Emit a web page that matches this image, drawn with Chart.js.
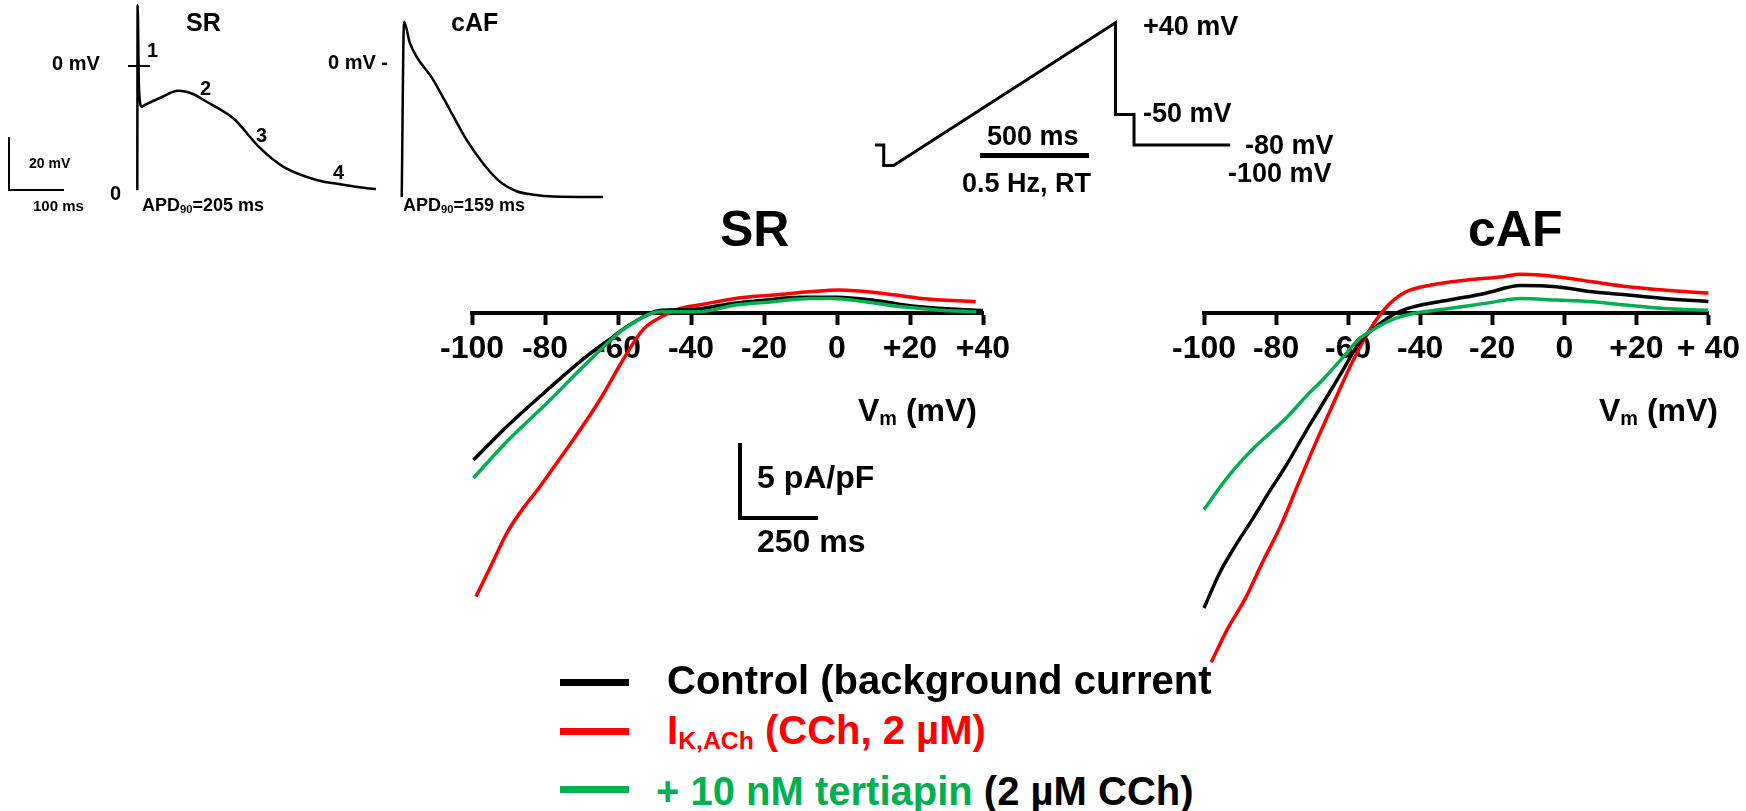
<!DOCTYPE html>
<html lang="en">
<head>
<meta charset="UTF-8">
<title>Ramp currents SR / cAF</title>
<script src="https://cdn.jsdelivr.net/npm/chart.js"></script>
<style>
  html, body { margin: 0; background: #fff; }
  body { position: relative; width: 1746px; height: 811px; overflow: hidden;
         font-family: "Liberation Sans", Arial, sans-serif; font-weight: bold; color: #000; }
  canvas { position: absolute; }
  .t { position: absolute; line-height: 1; white-space: nowrap; }
  .t sub { font-size: 0.62em; vertical-align: -0.22em; line-height: 0; }
  .bar { position: absolute; background: #000; }
</style>
</head>
<body>
<!-- AP panel -->
<canvas id="apSR" width="300" height="215" style="left:100px;top:0"></canvas>
<canvas id="apAF" width="230" height="215" style="left:390px;top:0"></canvas>
<div class="t" style="font-size:25px;left:186px;top:10px">SR</div>
<div class="t" style="font-size:25px;left:451px;top:10px">cAF</div>
<div class="t" style="font-size:20px;left:52px;top:53px">0 mV</div>
<div class="bar" style="left:128px;top:65px;width:22px;height:2px"></div>
<div class="t" style="font-size:20px;left:147px;top:40px">1</div>
<div class="t" style="font-size:20px;left:200px;top:78px">2</div>
<div class="t" style="font-size:20px;left:256px;top:125px">3</div>
<div class="t" style="font-size:20px;left:333px;top:162px">4</div>
<div class="t" style="font-size:20px;left:110px;top:183px">0</div>
<div class="t" style="font-size:18px;left:142px;top:196px">APD<sub>90</sub>=205 ms</div>
<div class="t" style="font-size:18px;left:403px;top:196px">APD<sub>90</sub>=159 ms</div>
<div class="t" style="font-size:20px;left:328px;top:52px">0 mV -</div>
<div style="position:absolute;left:8px;top:137px;width:56px;height:54px;border-left:2px solid #000;border-bottom:2px solid #000;box-sizing:border-box"></div>
<div class="t" style="font-size:14px;left:29px;top:156px">20 mV</div>
<div class="t" style="font-size:15px;left:33px;top:198px">100 ms</div>

<!-- voltage protocol -->
<canvas id="ramp" width="390" height="200" style="left:860px;top:0"></canvas>
<div class="t" style="font-size:27px;left:1143px;top:13px">+40 mV</div>
<div class="t" style="font-size:27px;left:1143px;top:100px">-50 mV</div>
<div class="t" style="font-size:27px;left:1245px;top:132px">-80 mV</div>
<div class="t" style="font-size:27px;left:1228px;top:160px">-100 mV</div>
<div class="t" style="font-size:27px;left:987px;top:123px">500 ms</div>
<div class="bar" style="left:980px;top:153px;width:109px;height:5px"></div>
<div class="t" style="font-size:27px;left:962px;top:170px">0.5 Hz, RT</div>

<!-- I-V panels -->
<canvas id="ivSR" width="601" height="430" style="left:427px;top:250px"></canvas>
<canvas id="ivAF" width="587" height="430" style="left:1159px;top:250px"></canvas>
<div class="t" style="font-size:50px;left:720px;top:204px">SR</div>
<div class="t" style="font-size:50px;left:1468px;top:204px">cAF</div>
<div class="t" style="font-size:32px;left:858px;top:394px">V<sub>m</sub> (mV)</div>
<div class="t" style="font-size:32px;left:1599px;top:394px">V<sub>m</sub> (mV)</div>
<div style="position:absolute;left:738px;top:443px;width:80px;height:77px;border-left:4px solid #000;border-bottom:4px solid #000;box-sizing:border-box"></div>
<div class="t" style="font-size:32px;left:757px;top:461px">5 pA/pF</div>
<div class="t" style="font-size:32px;left:757px;top:525px">250 ms</div>

<!-- legend -->
<div class="bar" style="left:560px;top:679px;width:69px;height:7px"></div>
<div class="t" style="font-size:40px;left:667px;top:660px">Control (background current</div>
<div class="bar" style="left:560px;top:728px;width:69px;height:7px;background:#ff0000"></div>
<div class="t" style="font-size:40px;left:667px;top:710px;color:#ff0000">I<sub>K,ACh</sub> (CCh, 2 µM)</div>
<div class="bar" style="left:560px;top:786px;width:69px;height:7px;background:#00b050"></div>
<div class="t" style="font-size:40px;left:656px;top:771px"><span style="color:#00b050">+ 10 nM tertiapin</span> (2 µM CCh)</div>

<script>
// action potentials, time (ms) / membrane potential (mV)
const apSrT = [0, 0.6, 3, 8, 14, 41, 74.5, 101, 126, 174, 223, 265, 326, 368.5, 417, 434];
const apSrV = [-46.6, 22.7, -8, -15.4, -14.7, -12.1, -9.4, -10.6, -13.5, -19.6, -30.8, -37.8, -42.8, -44.4, -45.9, -46.2];
const apAfT = [0, 4.2, 15, 57.5, 87.8, 118, 148, 178.5, 209, 240, 276, 366];
const apAfV = [-49.2, 16.5, 8.4, -5.4, -16.6, -27.8, -36.6, -43.4, -47.0, -48.3, -49, -49.2];

// ramp protocol, time (ms) / command potential (mV)
const rampT = [0, 40, 40, 85, 1100, 1100, 1185, 1185, 1625];
const rampV = [-80, -80, -100, -100, 40, -50, -50, -80, -80];

// ramp currents, Vm (mV) / current density (pA/pF)
const srCtrlV = [-99.6, -90.5, -81.4, -68.3, -63.3, -56.2, -48.1, -40, -30, -20, -10, 0, 10, 20, 30, 40];
const srCtrlI = [-9.7, -7.5, -5.5, -2.78, -1.89, -0.67, 0.22, 0.25, 0.62, 0.88, 1.08, 1.08, 0.88, 0.52, 0.32, 0.2];
const srCchV = [-98.9, -94.5, -90.5, -86, -81.4, -76.8, -72.3, -65, -58.2, -53.1, -48.1, -43, -37.9, -27.8, -17.6, -7.5, 0.6, 12.8, 23, 38];
const srCchI = [-18.75, -16.56, -14.56, -12.9, -11.47, -9.9, -8.38, -5.73, -2.9, -1.05, -0.22, 0.33, 0.56, 1.0, 1.22, 1.44, 1.56, 1.33, 1.0, 0.78];
const srTertV = [-99.6, -90.5, -78.6, -68.3, -58.2, -48.1, -37.9, -27.8, -17.6, -7.5, -1.4, 7.7, 17.9, 28, 38.2];
const srTertI = [-10.9, -8.49, -5.73, -3.22, -1.0, 0.11, 0.11, 0.56, 0.78, 1.0, 1.0, 0.78, 0.44, 0.22, 0.11];

const afCtrlV = [-100, -95.7, -91.6, -86.5, -81.6, -77.3, -71.7, -68.1, -61.8, -56.8, -51.8, -46.9, -41.9, -32, -22, -12.1, -2.2, 7.7, 17.7, 27.6, 40];
const afCtrlI = [-19.5, -17.2, -15.5, -13.6, -11.7, -10.1, -7.8, -6.39, -3.9, -1.9, -0.78, 0, 0.44, 0.89, 1.33, 1.85, 1.77, 1.44, 1.22, 1.0, 0.8];
const afCchV = [-98, -93.5, -88.6, -83.6, -78.6, -73.7, -68.7, -63.8, -58.8, -53.8, -48.9, -43.9, -37, -27, -17.1, -12.1, -2.2, 7.7, 17.7, 27.6, 40];
const afCchI = [-23.1, -20.9, -18.9, -16.4, -14.0, -11.2, -8.4, -5.8, -3.2, -1.0, 0.55, 1.44, 1.89, 2.22, 2.44, 2.6, 2.44, 2.1, 1.77, 1.55, 1.35];
const afTertV = [-100, -96.5, -91.6, -86.6, -81.6, -76.7, -71.7, -66.7, -61.8, -56.8, -51.8, -46.9, -41.9, -32, -22, -12.1, -2.2, 7.7, 17.7, 27.6, 40];
const afTertI = [-13.0, -11.8, -10.3, -9.0, -7.9, -6.8, -5.5, -4.3, -3.0, -1.66, -0.89, -0.33, 0, 0.33, 0.67, 1.0, 0.89, 0.78, 0.55, 0.33, 0.22];

const srTicks = ['-100', '-80', '-60', '-40', '-20', '0', '+20', '+40'];
const afTicks = ['-100', '-80', '-60', '-40', '-20', '0', '+20', '+ 40'];

const BLACK = '#000000', RED = '#ff0000', GREEN = '#00b050';
Chart.defaults.font.family = '"Liberation Sans", Arial, sans-serif';

function pts(xs, ys) {
  return xs.map((x, i) => ({ x: x, y: ys[i] }));
}

function line(xs, ys, color, width, smooth) {
  return {
    data: pts(xs, ys),
    borderColor: color,
    borderWidth: width,
    pointRadius: 0,
    fill: false,
    tension: 0,
    cubicInterpolationMode: smooth ? 'monotone' : 'default',
    clip: 6
  };
}

const quiet = { legend: { display: false }, tooltip: { enabled: false } };

// plain trace, no axes: canvas edges are the value ranges
function traceChart(id, sets, xr, yr) {
  return new Chart(document.getElementById(id), {
    type: 'line',
    data: { datasets: sets },
    options: {
      responsive: false,
      animation: false,
      layout: { padding: 0 },
      plugins: quiet,
      scales: {
        x: { type: 'linear', display: false, min: xr[0], max: xr[1] },
        y: { type: 'linear', display: false, min: yr[0], max: yr[1] }
      }
    }
  });
}

// I-V plot, x axis crossing at 0 pA/pF
function ivChart(id, sets, ticks, padL, padR) {
  return new Chart(document.getElementById(id), {
    type: 'line',
    data: { datasets: sets },
    options: {
      responsive: false,
      animation: false,
      layout: { padding: { left: padL, right: padR, top: 0, bottom: 0 } },
      plugins: quiet,
      scales: {
        x: {
          type: 'linear', min: -100, max: 40, position: { y: 0 },
          ticks: {
            stepSize: 20, autoSkip: false, maxRotation: 0, padding: 6, color: '#000',
            font: { size: 32, weight: 'bold' },
            callback: (v, i) => ticks[i]
          },
          grid: { drawOnChartArea: false, tickLength: 10, tickWidth: 4, tickColor: '#000' },
          border: { display: true, color: '#000', width: 4 }
        },
        y: { type: 'linear', display: false, min: -24.272, max: 4.205 }
      }
    }
  });
}

traceChart('apSR', [line(apSrT, apSrV, BLACK, 2.5, true)], [-67.8, 477.6], [-55.9, 24.6]);
traceChart('apAF', [line(apAfT, apAfV, BLACK, 2.5, true)], [-21.3, 396.9], [-55.9, 24.6]);
traceChart('ramp', [line(rampT, rampV, BLACK, 3, false)], [-68.6, 1715.5], [-133.9, 62.2]);

ivChart('ivSR', [
  line(srTertV, srTertI, GREEN, 3.5, true),
  line(srCtrlV, srCtrlI, BLACK, 3.5, true),
  line(srCchV, srCchI, RED, 3.5, true)
], srTicks, 45, 45);

ivChart('ivAF', [
  line(afTertV, afTertI, GREEN, 3.5, true),
  line(afCtrlV, afCtrlI, BLACK, 3.5, true),
  line(afCchV, afCchI, RED, 3.5, true)
], afTicks, 45, 33);
</script>
</body>
</html>
